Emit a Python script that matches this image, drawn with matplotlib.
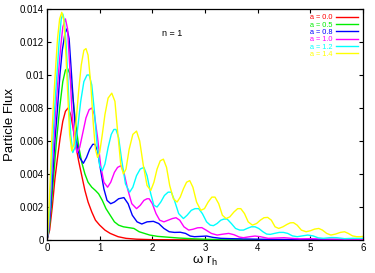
import matplotlib
matplotlib.use("Agg")
import matplotlib.pyplot as plt

# particle flux vs omega*r_h for n = 1
labels = ["a = 0.0", "a = 0.5", "a = 0.8", "a = 1.0", "a = 1.2", "a = 1.4"]
colors = ["#ff0000", "#00ee00", "#0000ff", "#ff00ff", "#00ffff", "#ffff00"]

x_a00 = [0, 0.05, 0.10, 0.15, 0.20, 0.25, 0.30, 0.35, 0.40, 0.45, 0.50, 0.55, 0.60, 0.66, 0.72,
         0.78, 0.85, 0.92, 1.00, 1.10, 1.20, 1.35, 1.50, 1.70, 2.0, 3.0, 6.0]
y_a00 = [0, 0.0006, 0.0020, 0.0037, 0.0050, 0.0062, 0.0072, 0.0078, 0.0080, 0.0076, 0.0067, 0.0057,
         0.0048, 0.0039, 0.0030, 0.0023, 0.0017, 0.0012, 0.0009, 0.0006, 0.0004, 0.0002, 0.0001,
         0.00005, 0.00002, 0.0, 0.0]

x_a05 = [0, 0.04, 0.08, 0.13, 0.18, 0.24, 0.30, 0.35, 0.39, 0.43, 0.48, 0.54, 0.60, 0.66, 0.72,
         0.78, 0.85, 0.92, 0.98, 1.05, 1.12, 1.20, 1.28, 1.36, 1.45, 1.55, 1.65, 1.75, 1.85, 1.95,
         2.1, 2.3, 2.5, 2.8, 3.2, 4.0, 6.0]
y_a05 = [0, 0.0006, 0.0020, 0.0040, 0.0060, 0.0080, 0.0096, 0.0103, 0.0104, 0.0101, 0.0090, 0.0072,
         0.0057, 0.0047, 0.0040, 0.0035, 0.0032, 0.0030, 0.0028, 0.0024, 0.0019, 0.0015, 0.0011,
         0.0009, 0.0008, 0.00075, 0.0007, 0.0005, 0.0004, 0.0003, 0.00022, 0.00017, 0.00012,
         0.00007, 0.00003, 0.00001, 0.0]

x_a08 = [0, 0.035, 0.07, 0.11, 0.15, 0.20, 0.245, 0.29, 0.34, 0.38, 0.42, 0.46, 0.51, 0.56, 0.62,
         0.69, 0.75, 0.81, 0.87, 0.91, 0.96, 1.02, 1.08, 1.14, 1.21, 1.28, 1.36, 1.46, 1.54, 1.62,
         1.71, 1.80, 1.90, 2.02, 2.12, 2.22, 2.32, 2.42, 2.53, 2.63, 2.72, 2.80, 2.92, 3.03, 3.15,
         3.30, 3.5, 3.8, 4.2, 5.0, 6.0]
y_a08 = [0, 0.0006, 0.0020, 0.0040, 0.0060, 0.0080, 0.0100, 0.0115, 0.0125, 0.0128, 0.0122, 0.0103,
         0.0079, 0.0060, 0.0050, 0.00465, 0.0050, 0.0055, 0.0058, 0.0058, 0.0054, 0.0042, 0.0031,
         0.0024, 0.0022, 0.0023, 0.0025, 0.00257, 0.0022, 0.0015, 0.0011, 0.00097, 0.0011, 0.00113,
         0.0010, 0.0007, 0.0005, 0.00046, 0.00047, 0.0004, 0.00024, 0.0002, 0.00022, 0.00024,
         0.00016, 0.0001, 0.00008, 0.00006, 0.00004, 0.00002, 0.00001]

x_a10 = [0, 0.03, 0.06, 0.09, 0.13, 0.17, 0.215, 0.26, 0.30, 0.35, 0.39, 0.43, 0.47, 0.52, 0.57,
         0.62, 0.68, 0.74, 0.80, 0.85, 0.90, 0.96, 1.02, 1.08, 1.15, 1.21, 1.28, 1.34, 1.40, 1.46,
         1.53, 1.61, 1.70, 1.77, 1.84, 1.90, 1.94, 2.00, 2.07, 2.14, 2.22, 2.30, 2.38, 2.45, 2.52,
         2.60, 2.69, 2.77, 2.86, 2.94, 3.02, 3.12, 3.23, 3.33, 3.45, 3.55, 3.65, 3.73, 3.85, 3.95,
         4.05, 4.2, 4.35, 4.5, 4.65, 4.8, 5.0, 5.3, 5.6, 6.0]
y_a10 = [0, 0.0006, 0.0020, 0.0039, 0.0060, 0.0080, 0.0100, 0.0117, 0.0129, 0.0134, 0.0128, 0.0106,
         0.0080, 0.0060, 0.0053, 0.0056, 0.0065, 0.0074, 0.0079, 0.0080, 0.0076, 0.0062, 0.0045,
         0.0035, 0.0032, 0.0035, 0.0041, 0.0044, 0.0045, 0.0041, 0.0031, 0.0022, 0.0019, 0.0021,
         0.0024, 0.0025, 0.0025, 0.0022, 0.0016, 0.0012, 0.0011, 0.0012, 0.0013, 0.00135, 0.0012,
         0.0008, 0.0006, 0.00065, 0.00074, 0.00075, 0.0006, 0.0004, 0.0003, 0.00035, 0.0004,
         0.00032, 0.00018, 0.00014, 0.0002, 0.00024, 0.0002, 0.0001, 0.00012, 0.00014, 0.0001,
         0.00007, 0.00008, 0.00006, 0.00005, 0.00004]

x_a12 = [0, 0.025, 0.05, 0.08, 0.11, 0.15, 0.19, 0.23, 0.27, 0.30, 0.33, 0.37, 0.41, 0.45, 0.49,
         0.53, 0.58, 0.64, 0.70, 0.76, 0.80, 0.85, 0.90, 0.95, 1.00, 1.05, 1.10, 1.16, 1.22, 1.27,
         1.31, 1.36, 1.42, 1.49, 1.57, 1.63, 1.70, 1.77, 1.84, 1.90, 1.97, 2.03, 2.09, 2.16, 2.23,
         2.30, 2.36, 2.42, 2.50, 2.59, 2.66, 2.74, 2.81, 2.88, 2.95, 3.03, 3.10, 3.16, 3.23, 3.30,
         3.36, 3.42, 3.50, 3.58, 3.66, 3.73, 3.80, 3.88, 3.95, 4.02, 4.10, 4.17, 4.24, 4.32, 4.41,
         4.49, 4.57, 4.66, 4.75, 4.85, 4.95, 5.05, 5.15, 5.25, 5.40, 5.50, 5.65, 5.80, 6.0]
y_a12 = [0, 0.0006, 0.0019, 0.0038, 0.0060, 0.0082, 0.0101, 0.0120, 0.0134, 0.0137, 0.0133, 0.0115,
         0.0088, 0.0064, 0.0053, 0.0056, 0.0067, 0.0084, 0.0096, 0.0100, 0.0100, 0.0094, 0.0078,
         0.0058, 0.0045, 0.0042, 0.0046, 0.0056, 0.0064, 0.0067, 0.0067, 0.0062, 0.0048, 0.0034,
         0.0029, 0.0032, 0.0039, 0.0043, 0.0044, 0.0039, 0.0028, 0.0021, 0.0020, 0.0023, 0.0027,
         0.0029, 0.0029, 0.0024, 0.0016, 0.0013, 0.0015, 0.0018, 0.0019, 0.0019, 0.0016, 0.0011,
         0.0009, 0.00087, 0.0010, 0.0012, 0.00127, 0.00127, 0.0010, 0.0007, 0.0006, 0.0006, 0.0007,
         0.0008, 0.0008, 0.0007, 0.0005, 0.00036, 0.00034, 0.0004, 0.00046, 0.00046, 0.0004,
         0.00025, 0.0002, 0.00025, 0.0003, 0.00025, 0.00013, 0.0001, 0.00015, 0.00014, 0.00008,
         0.0001, 0.0001]

x_a14 = [0, 0.02, 0.04, 0.065, 0.09, 0.13, 0.165, 0.20, 0.24, 0.28, 0.32, 0.36, 0.40, 0.43, 0.47,
         0.51, 0.55, 0.60, 0.65, 0.70, 0.74, 0.78, 0.83, 0.88, 0.92, 0.96, 1.00, 1.05, 1.10, 1.16,
         1.23, 1.29, 1.34, 1.40, 1.45, 1.50, 1.56, 1.63, 1.70, 1.76, 1.83, 1.90, 1.97, 2.03, 2.09,
         2.15, 2.21, 2.27, 2.33, 2.40, 2.47, 2.53, 2.59, 2.65, 2.71, 2.77, 2.84, 2.92, 2.99, 3.06,
         3.13, 3.19, 3.26, 3.33, 3.40, 3.47, 3.55, 3.62, 3.68, 3.75, 3.82, 3.90, 3.98, 4.05, 4.12,
         4.19, 4.26, 4.33, 4.40, 4.48, 4.56, 4.62, 4.68, 4.75, 4.83, 4.92, 5.00, 5.08, 5.16, 5.23,
         5.31, 5.39, 5.48, 5.57, 5.65, 5.72, 5.80, 5.88, 5.95, 6.0]
y_a14 = [0, 0.0007, 0.0020, 0.0040, 0.0061, 0.0087, 0.0105, 0.0122, 0.0134, 0.0138, 0.0133, 0.0112,
         0.0084, 0.0064, 0.0054, 0.0058, 0.0071, 0.0090, 0.0106, 0.0115, 0.0116, 0.0112, 0.0095,
         0.0070, 0.0055, 0.0050, 0.0053, 0.0064, 0.0076, 0.0086, 0.0089, 0.0084, 0.0066, 0.0046,
         0.0040, 0.0043, 0.0055, 0.0064, 0.0066, 0.0060, 0.0045, 0.0033, 0.0030, 0.0035, 0.0043,
         0.0048, 0.0049, 0.0044, 0.0033, 0.0025, 0.0023, 0.0026, 0.0031, 0.0035, 0.0036, 0.0032,
         0.0023, 0.0018, 0.0019, 0.0023, 0.0026, 0.0026, 0.0022, 0.0015, 0.0013, 0.0014, 0.0017,
         0.0019, 0.0019, 0.0016, 0.0011, 0.0009, 0.0010, 0.0012, 0.00135, 0.00137, 0.0012, 0.0008,
         0.0007, 0.0008, 0.00095, 0.00104, 0.00105, 0.0009, 0.0006, 0.0005, 0.00056, 0.00066,
         0.0007, 0.0006, 0.0004, 0.0003, 0.00036, 0.00046, 0.0005, 0.0004, 0.00025, 0.0002, 0.0002,
         0.00022]

xs = [x_a00, x_a05, x_a08, x_a10, x_a12, x_a14]
ys = [y_a00, y_a05, y_a08, y_a10, y_a12, y_a14]

plt.rcParams['font.family'] = ['Liberation Sans', 'DejaVu Sans']
plt.rcParams['mathtext.default'] = 'regular'
fig = plt.figure(figsize=(3.75, 2.73), dpi=100)
ax = fig.add_axes([47/375, 33/273, 316/375, 231/273])

for x, y, c, lab in zip(xs, ys, colors, labels):
    ax.plot(x, y, color=c, lw=1.0, label=lab, solid_joinstyle='round')

ax.set_xlim(0, 6)
ax.set_ylim(0, 0.014)
ax.set_xticks(range(7))
ax.set_yticks([0, 0.002, 0.004, 0.006, 0.008, 0.01, 0.012, 0.014])
ax.set_yticklabels(["0", "0.002", "0.004", "0.006", "0.008", "0.01", "0.012", "0.014"])
ax.tick_params(direction='in', top=True, right=True, length=3, width=0.8, labelsize=7, pad=2)
for s in ax.spines.values():
    s.set_linewidth(0.9)

ax.set_xlabel(r'$\omega\ r_h$', fontsize=9.5, labelpad=1)
ax.set_ylabel("Particle Flux", fontsize=9.5, labelpad=3)
ax.text(2.37, 0.0125, "n = 1", fontsize=6.5, ha='center', va='center')

leg = ax.legend(loc='upper right', fontsize=5.3, frameon=False, markerfirst=False,
                labelcolor='linecolor', handlelength=3.0, handletextpad=0.5,
                labelspacing=0.02, borderaxespad=0.3)

fig.savefig("out.png", dpi=100)
